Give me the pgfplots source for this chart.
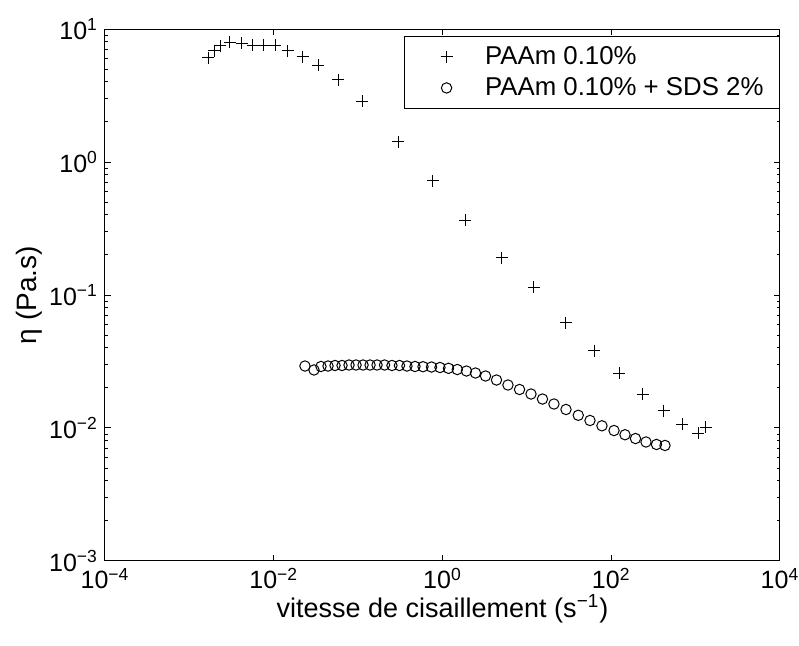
\documentclass[border=0pt]{standalone}
\usepackage{fontspec}
\setmainfont{Liberation Sans}
\usepackage{pgfplots}
\pgfplotsset{compat=1.18}
\newcommand{\fs}{\fontsize{12.5}{15}\selectfont}
\newcommand{\fg}{\fontsize{12.9}{15.5}\selectfont}
\newcommand{\fl}{\fontsize{13.5}{16}\selectfont}
\newcommand{\fy}{\fontsize{14}{16.5}\selectfont}
\newcommand{\tp}[1]{10\textsuperscript{#1}}
\begin{document}
\begin{tikzpicture}
\useasboundingbox (-52.5pt,-42.5pt) rectangle (347pt,280.5pt);
\begin{axis}[
  scale only axis,
  width=337.5pt, height=266pt,
  xmode=log, ymode=log,
  xmin=1e-4, xmax=1e4, ymin=1e-3, ymax=1e1,
  xtick={1e-4,1e-2,1,1e2,1e4},
  xticklabels={\tp{−4},\tp{−2},\tp{0},\tp{2},\tp{4}},
  ytick={1e-3,1e-2,1e-1,1,1e1},
  yticklabels={\tp{−3},\tp{−2},\tp{−1},\tp{0},\tp{1}},
  xminorticks=false,
  tick align=inside,
  major tick length=3pt, minor tick length=1.5pt,
  axis line style={line width=0.5pt},
  every tick/.style={black, line width=0.5pt},
  tick label style={font=\fs},
  xlabel={vitesse de cisaillement (s\textsuperscript{−1})},
  ylabel={η (Pa.s)},
  xlabel style={font=\fl, at={(axis description cs:0.5,0)}, anchor=base, yshift=-28.5pt},
  ylabel style={font=\fy},
  ylabel shift=-3.5pt,
  legend style={font=\fg, at={(1.0,0.987)}, anchor=north east, draw=black, line width=0.5pt, inner xsep=6pt, inner ysep=3pt, cells={anchor=west}, row sep=1pt},
  legend image code/.code={\draw[opacity=0] (-15pt,0pt) -- (17pt,0pt); \draw[#1] plot coordinates {(0pt,0pt)};},
]
\addplot[only marks, mark=+, mark size=3pt, line width=0.5pt, black] coordinates {
(0.001675,6.09) (0.001959,6.87) (0.002307,7.49) (0.003027,7.94) (0.004168,7.81)
(0.005636,7.58) (0.007656,7.58) (0.01035,7.58) (0.01462,6.87) (0.02203,6.19)
(0.03373,5.36) (0.05820,4.14) (0.1120,2.875) (0.2972,1.414) (0.7709,0.720)
(1.849,0.366) (5.070,0.190) (12.14,0.1148) (28.84,0.0619) (62.48,0.0381)
(124.5,0.0258) (235.9,0.0180) (421.7,0.0135) (695.0,0.01066) (1076,0.00912)
(1327,0.01012)
};
\addlegendentry{PAAm 0.10\%}
\addplot[only marks, mark=o, mark size=2.6pt, line width=0.5pt, black] coordinates {
(0.02344,0.02924) (0.02999,0.02731) (0.03631,0.02901) (0.04397,0.02924) (0.05323,0.02951)
(0.06445,0.02951) (0.07803,0.02976) (0.09447,0.02976) (0.1144,0.02976) (0.1385,0.02976)
(0.1676,0.02976) (0.2057,0.02976) (0.2518,0.02951) (0.3090,0.02951) (0.3793,0.02924)
(0.4721,0.02901) (0.5875,0.02890) (0.7413,0.02874) (0.9333,0.02850) (1.178,0.02810)
(1.497,0.02752) (1.923,0.02682) (2.460,0.02591) (3.236,0.02460) (4.365,0.02295)
(5.971,0.02105) (8.185,0.01948) (11.19,0.01801) (15.31,0.01651) (20.94,0.01515)
(29.09,0.01378) (40.64,0.01246) (55.98,0.01139) (77.62,0.01039) (107.9,0.00957)
(145.6,0.00890) (193.8,0.00833) (258.2,0.00785) (343.6,0.00752) (433.5,0.00739)
};
\addlegendentry{PAAm 0.10\% + SDS 2\%}
\end{axis}
\end{tikzpicture}
\end{document}
